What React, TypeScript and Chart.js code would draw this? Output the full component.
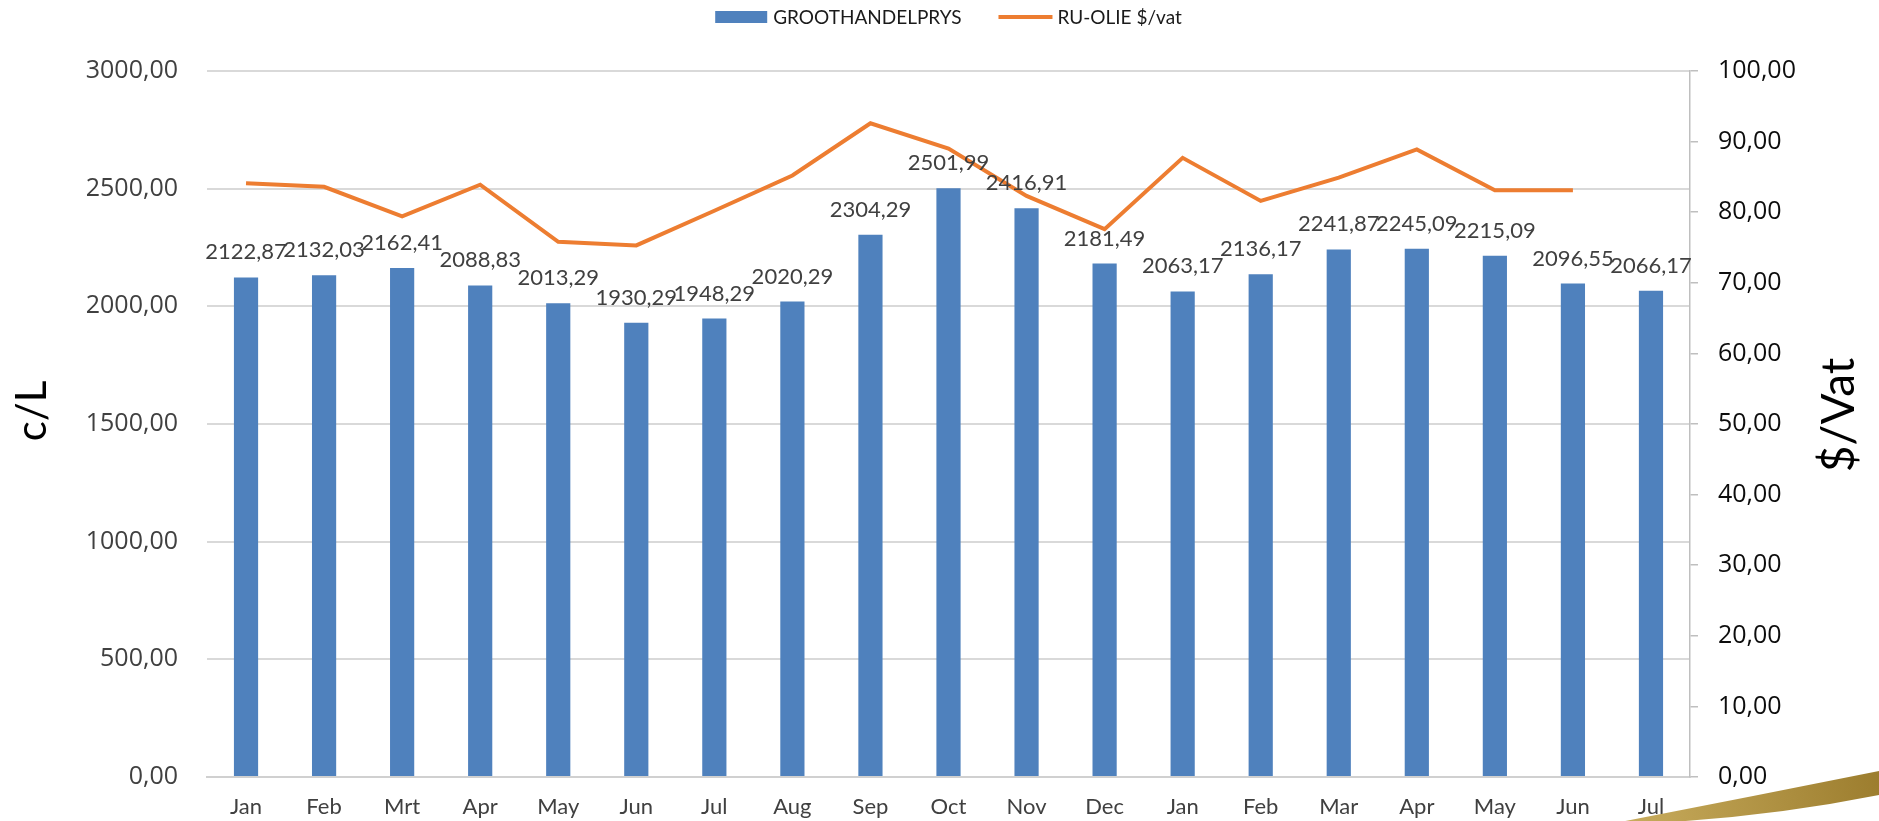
import React, { useEffect, useRef } from 'react';
import { Chart, registerables } from 'chart.js';

Chart.register(...registerables);

const categories = ['Jan', 'Feb', 'Mrt', 'Apr', 'May', 'Jun', 'Jul', 'Aug', 'Sep', 'Oct', 'Nov', 'Dec', 'Jan', 'Feb', 'Mar', 'Apr', 'May', 'Jun', 'Jul'];
const wholesalePrices = [2122.87, 2132.03, 2162.41, 2088.83, 2013.29, 1930.29, 1948.29, 2020.29, 2304.29, 2501.99, 2416.91, 2181.49, 2063.17, 2136.17, 2241.87, 2245.09, 2215.09, 2096.55, 2066.17];
const oilPrices: (number | null)[] = [84.1, 83.6, 79.4, 83.9, 75.8, 75.3, 80.2, 85.2, 92.6, 89.0, 82.3, 77.6, 87.7, 81.6, 84.9, 88.9, 83.1, 83.1, null];

const barLabel = 'GROOTHANDELPRYS';
const lineLabel = 'RU-OLIE $/vat';
const leftTitle = 'c/L';
const rightTitle = '$/Vat';

const leftMax = 3000;
const leftStep = 500;
const rightMax = 100;
const rightStep = 10;

const BAR_COLOR = '#4F81BD';
const LINE_COLOR = '#ED7D31';
const CAL = 'Lato, "Open Sans", sans-serif';
const TICKF = '"Open Sans", sans-serif';

const fmt = (v: number) => v.toFixed(2).replace('.', ',');

const decorPlugin = {
  id: 'decor',
  afterDatasetsDraw(chart: any) {
    const ctx = chart.ctx;
    const meta = chart.getDatasetMeta(0);
    ctx.save();
    ctx.font = `22px ${CAL}`;
    ctx.fillStyle = '#404040';
    ctx.textAlign = 'center';
    ctx.textBaseline = 'alphabetic';
    meta.data.forEach((el: any, i: number) => {
      ctx.fillText(fmt(wholesalePrices[i]), el.x, el.y - 18);
    });
    ctx.restore();
  },
  afterDraw(chart: any) {
    const ctx = chart.ctx;
    const ca = chart.chartArea;
    const W = chart.width;
    const H = chart.height;
    ctx.save();
    // axis titles
    ctx.fillStyle = '#000000';
    ctx.textAlign = 'center';
    ctx.textBaseline = 'middle';
    const midY = (ca.top + ca.bottom) / 2 - 9;
    ctx.save();
    ctx.translate(ca.left - 175, midY - 4);
    ctx.rotate(-Math.PI / 2);
    ctx.font = `42px ${CAL}`;
    ctx.fillText(leftTitle, 0, 0);
    ctx.restore();
    ctx.save();
    ctx.translate(ca.right + 149, midY);
    ctx.rotate(-Math.PI / 2);
    ctx.font = `46px ${CAL}`;
    ctx.fillText(rightTitle, 0, 0);
    ctx.restore();

    // legend
    ctx.font = `19px ${CAL}`;
    const t1 = ctx.measureText(barLabel).width;
    const t2 = ctx.measureText(lineLabel).width;
    const boxW = 52, gapT = 6, gapItems = 37, lineW = 54, gapT2 = 5;
    const total = boxW + gapT + t1 + gapItems + lineW + gapT2 + t2;
    let x = (ca.left + ca.right) / 2 - total / 2;
    const cy = 17;
    ctx.fillStyle = BAR_COLOR;
    ctx.fillRect(x, cy - 6, boxW, 12);
    x += boxW + gapT;
    ctx.fillStyle = '#1a1a1a';
    ctx.textAlign = 'left';
    ctx.fillText(barLabel, x, cy + 1);
    x += t1 + gapItems;
    ctx.strokeStyle = LINE_COLOR;
    ctx.lineWidth = 4;
    ctx.beginPath();
    ctx.moveTo(x, cy);
    ctx.lineTo(x + lineW, cy);
    ctx.stroke();
    x += lineW + gapT2;
    ctx.fillText(lineLabel, x, cy + 1);

    // gold swoosh decoration
    const grad = ctx.createLinearGradient(W - 260, H, W, H - 48);
    grad.addColorStop(0, '#c9ad5e');
    grad.addColorStop(1, '#9c7d2e');
    ctx.fillStyle = grad;
    ctx.beginPath();
    ctx.moveTo(W - 264, H + 2);
    ctx.quadraticCurveTo(W - 130, H - 24, W, H - 50);
    ctx.lineTo(W, H - 26);
    ctx.quadraticCurveTo(W - 110, H - 4, W - 226, H + 2);
    ctx.closePath();
    ctx.fill();
    ctx.restore();
  },
};

export default function App() {
  const canvasRef = useRef<HTMLCanvasElement | null>(null);

  useEffect(() => {
    document.body.style.margin = '0';
    const canvas = canvasRef.current;
    if (!canvas) return;
    const chart = new Chart(canvas, {
      type: 'bar',
      data: {
        labels: categories,
        datasets: [
          {
            type: 'bar',
            label: barLabel,
            data: wholesalePrices,
            backgroundColor: BAR_COLOR,
            borderWidth: 0,
            yAxisID: 'y',
            order: 1,
            categoryPercentage: 1,
            barPercentage: 0.31,
          } as any,
          {
            type: 'line',
            label: lineLabel,
            data: oilPrices,
            borderColor: LINE_COLOR,
            backgroundColor: LINE_COLOR,
            borderWidth: 4,
            pointRadius: 0,
            tension: 0,
            yAxisID: 'y1',
            order: 0,
          } as any,
        ],
      },
      options: {
        animation: false,
        responsive: true,
        maintainAspectRatio: false,
        layout: { padding: { top: 71, left: 0, right: 0, bottom: 0 } },
        plugins: {
          legend: { display: false },
          tooltip: { enabled: false },
        },
        scales: {
          x: {
            grid: { display: false, drawTicks: false },
            border: { display: true, color: '#d0d0d0', width: 2 },
            ticks: {
              color: '#404040',
              font: { family: CAL, size: 22 },
              padding: 17,
              maxRotation: 0,
              autoSkip: false,
            },
            afterFit(s: any) {
              s.height = 41;
            },
          },
          y: {
            position: 'left',
            min: 0,
            max: leftMax,
            grid: { color: '#d9d9d9', lineWidth: 2, drawTicks: false },
            border: { display: false },
            ticks: {
              stepSize: leftStep,
              color: '#404040',
              font: { family: TICKF, size: 25 },
              padding: 29,
              callback: (v: any) => fmt(Number(v)),
            },
            afterFit(s: any) {
              s.width = 207;
            },
          },
          y1: {
            position: 'right',
            min: 0,
            max: rightMax,
            grid: { drawOnChartArea: false, drawTicks: true, tickLength: 8, color: '#bfbfbf', lineWidth: 1.5 },
            border: { display: true, color: '#bfbfbf', width: 1.5 },
            ticks: {
              stepSize: rightStep,
              color: '#0d0d0d',
              font: { family: TICKF, size: 25 },
              padding: 20,
              callback: (v: any) => fmt(Number(v)),
            },
            afterFit(s: any) {
              s.width = 189;
            },
          },
        },
      } as any,
      plugins: [decorPlugin],
    });
    return () => chart.destroy();
  }, []);

  return (
    <div style={{ width: '1879px', height: '821px', position: 'relative' }}>
      <canvas ref={canvasRef} />
    </div>
  );
}
